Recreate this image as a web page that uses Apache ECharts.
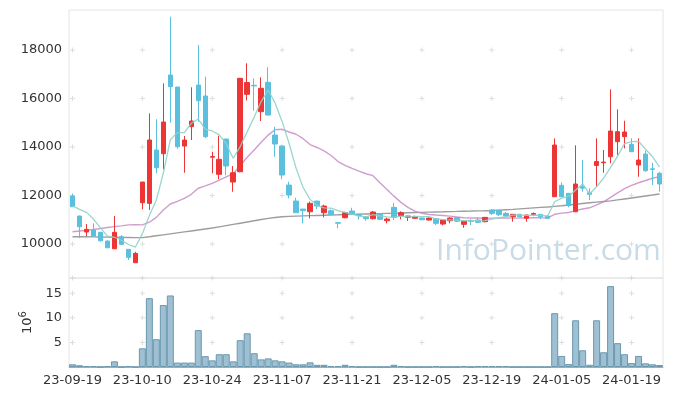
<!DOCTYPE html>
<html><head><meta charset="utf-8">
<script src="https://cdn.jsdelivr.net/npm/echarts@6/dist/echarts.min.js"></script>
<style>html,body{margin:0;padding:0;background:#fff}#c{width:673px;height:396px}</style>
</head><body><div id="c"></div>
<script>
const dates = ['23-09-19','23-09-20','23-09-21','23-09-22','23-09-25','23-09-26','23-09-27','23-10-04','23-10-05','23-10-06',
'23-10-10','23-10-11','23-10-12','23-10-13','23-10-16','23-10-17','23-10-18','23-10-19','23-10-20','23-10-23',
'23-10-24','23-10-25','23-10-26','23-10-27','23-10-30','23-10-31','23-11-01','23-11-02','23-11-03','23-11-06',
'23-11-07','23-11-08','23-11-09','23-11-10','23-11-13','23-11-14','23-11-15','23-11-16','23-11-17','23-11-20',
'23-11-21','23-11-22','23-11-23','23-11-24','23-11-27','23-11-28','23-11-29','23-11-30','23-12-01','23-12-04',
'23-12-05','23-12-06','23-12-07','23-12-08','23-12-11','23-12-12','23-12-13','23-12-14','23-12-15','23-12-18',
'23-12-19','23-12-20','23-12-21','23-12-22','23-12-26','23-12-27','23-12-28','24-01-02','24-01-03','24-01-04',
'24-01-05','24-01-08','24-01-09','24-01-10','24-01-11','24-01-12','24-01-15','24-01-16','24-01-17','24-01-18',
'24-01-19','24-01-22','24-01-23','24-01-24','24-01-25'];
const openP = [11980,11155,10495,10577,10482,10124,9806,10303,9781,9229,
11703,11678,13877,13724,16970,16475,14041,14838,16557,16104,
13580,12874,14330,12557,12981,16174,16545,15456,16668,14495,
14042,12433,11773,11443,11332,11773,11291,11373,10880,11085,
11361,11230,11126,11044,11225,10960,11513,11170,11100,11060,
11072,10990,11044,10825,10960,11085,10812,10960,10990,10920,
11402,11390,11265,11126,11225,11060,11220,11225,11155,11951,
12421,12090,11332,12366,12116,13237,13350,13600,14220,14426,
14111,13258,13712,13100,12916];
const closeP = [11538,10713,10606,10330,10136,9847,10482,9988,9452,9616,
12557,14289,13147,15031,16487,14013,14289,15073,15910,14426,
13610,13493,13217,12940,16832,16660,16520,16421,15320,14124,
12846,12021,11291,11373,11678,11567,11567,11225,10860,11291,
11225,11170,11044,11320,11020,11030,11101,11290,11155,11126,
11000,11072,10854,10990,11072,10940,10948,10940,10895,11100,
11265,11210,11155,11225,11126,11196,11260,11126,11060,14083,
11951,11588,12475,12300,12050,13402,13380,14660,14633,14620,
13807,13464,13023,13080,12475];
const lowP = [11530,10247,10330,10330,10100,9830,9800,9980,9340,9229,
11431,11402,12915,13081,15002,13930,12940,14289,15044,14372,
12916,12668,12833,12157,12960,15918,15497,15073,15300,13600,
12668,11884,11280,10854,11060,11443,11101,11190,10650,11060,
11200,11020,10960,11020,11000,10854,10990,11020,10950,11050,
10990,10970,10784,10770,10854,10920,10672,10784,10880,10900,
11200,11155,11140,10920,11110,10920,11150,11030,11050,11940,
11940,11513,11320,12157,11815,12366,12940,13330,13670,13946,
13800,12775,12980,12433,12157];
const highP = [12062,11170,10825,10854,10500,10150,11155,10370,9790,9682,
12560,15390,15143,16627,19374,16475,14454,16462,18207,16900,
13807,14466,14330,13217,16850,17452,16832,16874,17287,14838,
14060,12569,11910,11443,11753,11773,11621,11430,10900,11332,
11497,11240,11150,11361,11265,11085,11700,11350,11160,11170,
11090,11090,11060,11010,11100,11100,10960,11020,11100,11110,
11440,11400,11320,11240,11240,11210,11300,11240,11170,14358,
12545,12100,14070,13464,12300,14358,13877,16380,15555,15085,
14358,14358,13848,13350,12980];
const ma5 = [11580,11430,11307,11030,10665,10326,10280,10157,9981,9877,
10419,11180,11812,12928,14302,14593,14593,14979,15154,14742,
14662,14502,14131,13537,14018,14628,15234,15875,16351,15809,
15046,14146,13120,12331,11842,11586,11495,11482,11379,11302,
11234,11154,11118,11210,11156,11117,11103,11152,11119,11140,
11134,11129,11041,11008,10998,10986,10961,10978,10959,10965,
11030,11082,11125,11191,11196,11182,11192,11187,11154,11745,
11896,11962,12231,12479,12073,12363,12721,13158,13625,14139,
14220,14237,13909,13600,13170];
const ma20 = [10507,10540,10570,10600,10640,10680,10720,10750,10790,10800,
10790,10900,11100,11400,11650,11760,11880,12050,12300,12397,
12500,12639,12770,12900,13235,13576,13878,14199,14493,14718,
14732,14619,14526,14343,14103,13981,13844,13652,13400,13243,
13124,13007,12899,12818,12527,12246,11975,11718,11510,11360,
11268,11220,11198,11179,11149,11118,11087,11072,11074,11065,
11067,11069,11074,11069,11075,11083,11091,11083,11078,11226,
11273,11299,11380,11446,11495,11618,11739,11925,12112,12288,
12415,12528,12621,12714,12782];
const ma60 = [10300,10300,10300,10295,10290,10285,10280,10275,10270,10265,
10265,10300,10340,10380,10420,10460,10500,10540,10580,10620,
10660,10710,10760,10810,10860,10910,10960,11010,11060,11095,
11126,11140,11150,11160,11170,11180,11190,11200,11205,11215,
11225,11232,11240,11248,11256,11265,11272,11280,11290,11298,
11307,11315,11323,11330,11338,11345,11353,11360,11368,11375,
11385,11400,11415,11430,11450,11470,11490,11510,11530,11555,
11580,11610,11640,11670,11700,11730,11755,11780,11820,11860,
11900,11940,11980,12020,12062];
const volume = [0.55,0.35,0.2,0.2,0.03,0.2,1.15,0.03,0.2,0.03,
3.8,14.0,5.65,12.6,14.55,0.9,0.9,0.9,7.5,2.2,
1.35,2.6,2.6,1.15,5.45,6.85,2.8,1.55,1.75,1.35,
1.15,0.9,0.55,0.55,0.95,0.45,0.45,0.2,0.2,0.45,
0.2,0.03,0.03,0.03,0.03,0.03,0.45,0.2,0.03,0.03,
0.03,0.03,0.2,0.03,0.03,0.03,0.2,0.03,0.2,0.2,
0.2,0.2,0.2,0.03,0.03,0.03,0.03,0.03,0.03,10.95,
2.25,0.6,9.5,3.4,0.45,9.5,3.0,16.45,4.85,2.6,
0.8,2.25,0.75,0.55,0.4];
const priceTicks = [10000,12000,14000,16000,18000];
const volTicks = [5,10,15];
const labelDates = dates.filter((d,i)=>i%10===0);

const PRICE_MIN = 8600, PRICE_MAX = 19650, VOL_MAX = 18.1;
const UP = '#ee3535', DOWN = '#5bc0de';
const FONT = 'DejaVu Sans';

const candleData = dates.map((d,i)=>[openP[i],closeP[i],lowP[i],highP[i]]);
const crossMain = [];
labelDates.forEach(d=>priceTicks.forEach(v=>crossMain.push([d,v])));
const crossVol = [];
labelDates.forEach(d=>volTicks.concat([VOL_MAX]).forEach(v=>crossVol.push([d,v])));
const crossSym = 'path://M2,0H3V2H5V3H3V5H2V3H0V2H2Z';

const chart = echarts.init(document.getElementById('c'), null, {renderer:'canvas'});
chart.setOption({
  animation:false,
  backgroundColor:'#fff',
  textStyle:{fontFamily:FONT},
  grid:[
    {left:69,right:10,top:10,height:268,show:true,borderColor:'#e4e4e4',borderWidth:1,backgroundColor:'transparent'},
    {left:69,right:10,top:278,height:89,show:true,borderColor:'#e4e4e4',borderWidth:1,backgroundColor:'transparent'}
  ],
  graphic:[{type:'text',left:436,top:236,z:-1,silent:true,
    style:{text:'InfoPointer.com',font:'30px "Open Sans"',fill:'rgba(165,195,214,0.6)'}}],
  xAxis:[
    {type:'category',gridIndex:0,data:dates,boundaryGap:true,axisLine:{show:false},axisTick:{show:false},axisLabel:{show:false},splitLine:{show:false}},
    {type:'category',gridIndex:1,data:dates,boundaryGap:true,axisLine:{show:true,lineStyle:{color:'#aaa'}},axisTick:{show:false},
     axisLabel:{interval:9,color:'#333',fontSize:13,fontFamily:FONT,margin:7},splitLine:{show:false}}
  ],
  yAxis:[
    {type:'value',gridIndex:0,min:PRICE_MIN,max:PRICE_MAX,splitNumber:5,axisLine:{show:false},axisTick:{show:false},
     axisLabel:{color:'#333',fontSize:13,fontFamily:FONT,margin:7,showMinLabel:false,showMaxLabel:false,formatter:v=>String(v)},splitLine:{show:false}},
    {type:'value',gridIndex:1,min:0,max:VOL_MAX,interval:5,axisLine:{show:false},axisTick:{show:false},
     axisLabel:{color:'#333',fontSize:13,fontFamily:FONT,margin:7,showMinLabel:false,showMaxLabel:false,formatter:v=>String(v)},splitLine:{show:false},
     name:'{b|10}{s|6}',nameLocation:'middle',nameRotate:90,nameGap:24,
     nameTextStyle:{rich:{b:{fontSize:13,color:'#333',fontFamily:FONT},s:{fontSize:10,color:'#333',fontFamily:FONT,padding:[0,0,9,0]}}}}
  ],
  series:[
    {type:'scatter',xAxisIndex:0,yAxisIndex:0,data:crossMain,symbol:crossSym,symbolSize:5,itemStyle:{color:'#d4d4d4'},z:1,silent:true},
    {type:'scatter',xAxisIndex:1,yAxisIndex:1,data:crossVol,symbol:crossSym,symbolSize:5,itemStyle:{color:'#d4d4d4'},z:1,silent:true},
    {type:'line',xAxisIndex:0,yAxisIndex:0,data:ma60,symbol:'none',smooth:false,lineStyle:{color:'#8c8c8c',width:1.4,opacity:0.85},z:3},
    {type:'line',xAxisIndex:0,yAxisIndex:0,data:ma20,symbol:'none',smooth:false,lineStyle:{color:'#c98cc6',width:1.4,opacity:0.85},z:3},
    {type:'candlestick',xAxisIndex:0,yAxisIndex:0,data:candleData,barWidth:5,
     itemStyle:{color:UP,color0:DOWN,borderColor:UP,borderColor0:DOWN,borderWidth:1},z:4},
    {type:'line',xAxisIndex:0,yAxisIndex:0,data:ma5,symbol:'none',smooth:false,lineStyle:{color:'#8fd1c6',width:1.3,opacity:0.9},z:5},
    {type:'bar',xAxisIndex:1,yAxisIndex:1,data:volume,barCategoryGap:'0%',
     itemStyle:{color:'rgba(120,168,192,0.72)',borderColor:'#6a98ae',borderWidth:1},z:3}
  ]
});
</script></body></html>
